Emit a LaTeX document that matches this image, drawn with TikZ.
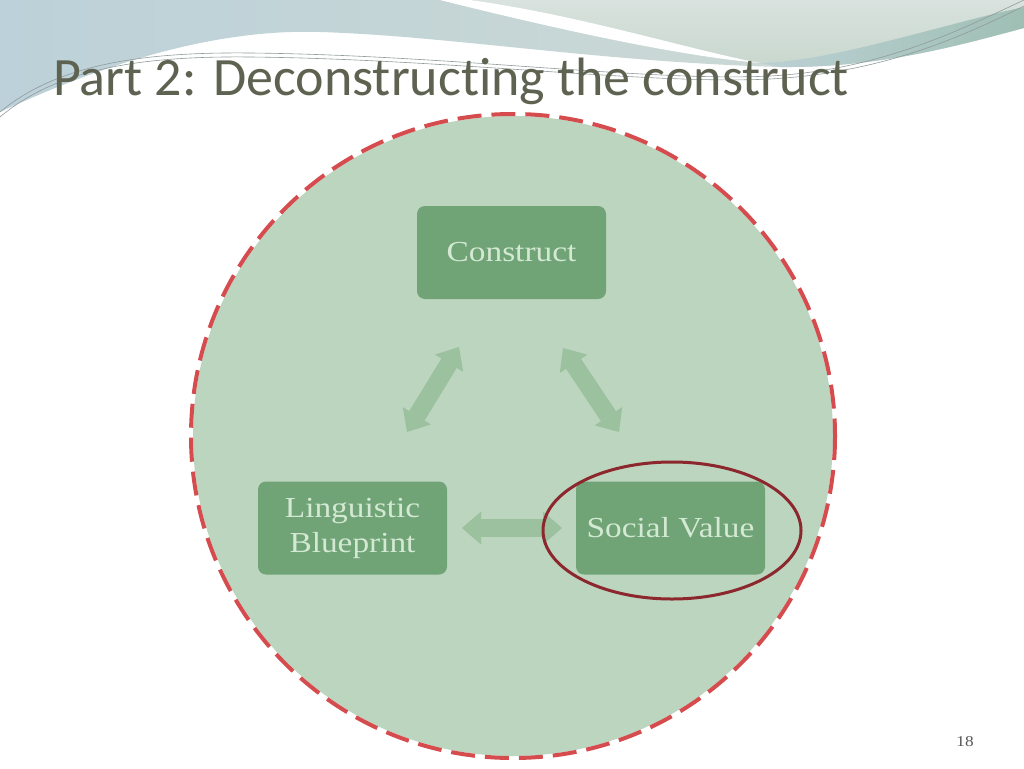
\documentclass[tikz,border=0pt]{standalone}
\usepackage{fontspec}
\newfontfamily\titlefont[Ligatures=NoCommon]{Carlito}
\newfontfamily\boxfont[FakeStretch=1.15]{Liberation Serif}
\usetikzlibrary{arrows.meta}
\definecolor{washL}{HTML}{BCD1D9}
\definecolor{washR}{HTML}{D0DBD3}
\definecolor{washTop}{HTML}{D9E2DE}
\definecolor{washBot}{HTML}{C9D8CF}
\definecolor{tealL}{HTML}{BCD0D4}
\definecolor{tealR}{HTML}{9FBFB4}
\definecolor{thinline}{HTML}{909B9B}
\definecolor{titlec}{HTML}{5E6250}
\definecolor{circfill}{HTML}{BCD5BF}
\definecolor{dashred}{HTML}{D64C4E}
\definecolor{boxfill}{HTML}{70A376}
\definecolor{boxtext}{HTML}{D4E9D3}
\definecolor{arrowc}{HTML}{9BC19E}
\definecolor{ringred}{HTML}{8C282D}
\definecolor{pagenum}{HTML}{555555}
\tikzset{
  box/.style={fill=boxfill, rounded corners=8pt, minimum width=189pt, minimum height=93pt,
    inner sep=0pt, align=center, text=boxtext, font=\boxfont\fontsize{29}{35}\selectfont},
  blockarrow/.style={line width=18pt, draw=arrowc,
    {Triangle[length=19pt,width=33pt,line width=0pt]}-{Triangle[length=19pt,width=33pt,line width=0pt]}},
  thin/.style={draw=thinline, line width=0.6pt}
}
\begin{document}
\begin{tikzpicture}[x=1pt,y=-1pt]
\useasboundingbox (0,0) rectangle (1024,768);
\fill[white] (0,0) rectangle (1024,768);
% top wash
\shade[left color=washL, right color=washR]
  (0,0) -- (1024,0) -- (1024,28)
  .. controls (960,45) and (880,68) .. (780,67)
  .. controls (600,62) and (450,36) .. (320,32)
  .. controls (200,28) and (80,75) .. (0,112) -- cycle;
% lighter upper right area
\shade[top color=washTop, bottom color=washBot]
  (470,0) -- (1024,0) -- (1024,7)
  .. controls (940,25) and (830,62) .. (760,63)
  .. controls (690,50) and (580,15) .. (470,0) -- cycle;
% teal band
\shade[left color=tealL, right color=tealR]
  (760,63) .. controls (830,62) and (940,25) .. (1024,7) -- (1024,28)
  .. controls (960,45) and (880,68) .. (780,67) -- cycle;
% white stripe
\fill[white]
  (470,0) .. controls (580,15) and (690,50) .. (760,63)
  .. controls (690,57) and (580,35) .. (440,0) -- cycle;
% thin lines
\draw[thin] (0,112) .. controls (60,62) and (150,52) .. (250,53)
  .. controls (450,55) and (650,82) .. (770,76)
  .. controls (880,70) and (960,30) .. (1024,0);
\draw[thin] (0,117) .. controls (60,66) and (150,56) .. (250,57)
  .. controls (450,59) and (650,85) .. (770,79)
  .. controls (880,73) and (960,38) .. (1024,6);
% title
\node[anchor=base west, inner sep=0pt, text=titlec, font=\titlefont\fontsize{54}{60}\selectfont]
  (title) at (53,95) {Part 2: Deconstructing the construct};
% big circle
\fill[circfill] (513,436) circle [radius=320];
\draw[dashred, line width=4pt, dash pattern=on 24pt off 10pt] (513,436) circle [radius=322];
% boxes
\node[box] (construct) at (511.5,252.5) {Construct};
\node[box] (social) at (670.5,528) {Social Value};
\node[box] (ling) at (352.5,528) {Linguistic\\Blueprint};
% arrow end points
\coordinate (la1) at (459,347);
\coordinate (la2) at (407,432);
\coordinate (ra1) at (563,348);
\coordinate (ra2) at (619,432);
\coordinate (ba1) at (462,528);
\coordinate (ba2) at (562,528);
\draw[blockarrow] (la1) -- (la2);
\draw[blockarrow] (ra1) -- (ra2);
\draw[blockarrow] (ba1) -- (ba2);
% highlight ellipse
\draw[ringred, line width=3pt] (672,530.5) ellipse [x radius=129, y radius=68.5];
% page number
\node[text=pagenum, font=\boxfont\fontsize{15}{18}\selectfont] (page) at (965,742) {18};
\end{tikzpicture}
\end{document}
